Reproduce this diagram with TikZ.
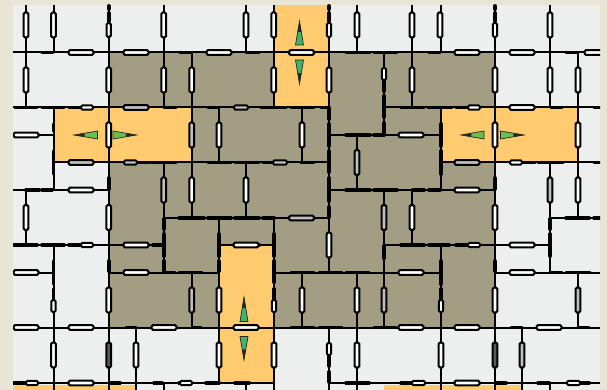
\documentclass[tikz,border=0pt]{standalone}
\usepackage{xcolor}
\definecolor{pagebeige}{HTML}{E9E5D6}
\definecolor{floorwhite}{HTML}{EDEEEE}
\definecolor{blockolive}{HTML}{A39D84}
\definecolor{cellorange}{HTML}{FFCB6E}
\definecolor{arrowgreen}{HTML}{3FB46C}
\definecolor{arrowlime}{HTML}{68BE4E}
\tikzset{
  wall/.style={black, line width=2pt},
  wallthick/.style={black, line width=3.8pt, line cap=round},
  slit/.style={draw=black, fill=white, line width=2pt, rounded corners=1.5pt},
  slitgray/.style={slit, fill=black!25},
  slitdark/.style={slit, fill=black!65},
  kite/.style={draw=black!85, line width=0.7pt, line join=miter, miter limit=20},
  kitetip/.style={fill=black!85}
}
\begin{document}
\begin{tikzpicture}[x=1pt,y=-1pt]
  \useasboundingbox (0,0) rectangle (607,390);
  \fill[pagebeige] (0,0) rectangle (607,390);
  \begin{scope}
    \clip (13,5) rectangle (600,390);
    \fill[floorwhite] (13,5) rectangle (600,390);
    \fill[blockolive] (108.7,52.5) rectangle (495,327.5);
    % orange cells
    \foreach \xa/\ya/\xb/\yb in {274/5/329/107.5,53.5/107.5/191.7/162.5,441/107.5/578/162.5,219/245/274/383,13/385/136/390,384/385/522/390}
      \fill[cellorange] (\xa,\ya) rectangle (\xb,\yb);
    % thin walls, horizontal then vertical
    \foreach \y/\xa/\xb in {52.5/13/600,107.5/13/329,107.5/384/600,135/13/53.5,135/329/441,162.5/53.5/329,162.5/441/600,190/13/108.7,190/329/495,218/164/329,218/550/600,245/13/164,245/219/274,245/384/550,272.5/13/53.5,272.5/108.7/219,272.5/274/441,272.5/495/600,327.5/13/600,383/13/274,383/329/600}
      \draw[wall] (\xa,\y) -- (\xb,\y);
    \foreach \x/\ya/\yb in {26/5/107.5,26/190/245,53.5/5/52.5,53.5/107.5/190,53.5/245/390,108.7/5/390,136/327.5/390,163.7/5/107.5,163.7/162.5/272.5,163.7/383/390,191.7/52.5/218,191.7/272.5/327.5,219/107.5/162.5,219/218/383,246/5/52.5,246/162.5/218,246/383/390,274/5/107.5,274/218/390,302/107.5/162.5,302/272.5/327.5,329/5/272.5,329/327.5/390,357/5/52.5,357/135/190,357/272.5/390,384/52.5/135,384/190/327.5,412/5/107.5,412/190/245,441/5/52.5,441/107.5/190,441/245/390,495/5/390,522/327.5/390,550/5/107.5,550/162.5/272.5,550/383/390,578/52.5/218,578/272.5/327.5}
      \draw[wall] (\x,\ya) -- (\x,\yb);
    % thick overlaps
    \foreach \y/\xa/\xb in {52.5/42/53,52.5/180/191,52.5/246/259,52.5/346/370,52.5/374/397,52.5/429/440,52.5/566/578,107.5/15/37,107.5/42/64,107.5/69/80,107.5/164/176,107.5/208/219,107.5/261/286,107.5/291/314,107.5/321/328,107.5/401/424,107.5/428/452,107.5/456/467,107.5/551/562,107.5/594/600,135/346/370,135/374/384,162.5/138/149,162.5/151/176,162.5/208/231,162.5/235/259,162.5/263/272,162.5/301/314,162.5/523/535,162.5/538/563,162.5/594/600,190/26/39,190/42/52,190/346/370,190/374/397,190/413/424,190/429/440,218/179/204,218/208/231,218/235/259,218/263/274,218/566/589,218/594/600,245/14/37,245/42/64,245/69/80,245/153/162,245/235/259,245/401/424,245/429/449,245/456/467,272.5/164/175,272.5/179/202,272.5/291/314,272.5/319/342,272.5/346/369,272.5/551/562,272.5/566/590,327.5/126/136,327.5/192/201,327.5/291/314,327.5/319/342,327.5/374/396,327.5/511/522,327.5/578/589,383/14/25,383/111/120,383/154/162,383/179/189,383/206/219,383/235/249,383/346/369,383/401/411,383/496/506,383/538/549,383/581/589}
      \draw[wallthick] (\xa,\y) -- (\xb,\y);
    \foreach \x/\ya/\yb in {108.7/6/9,108.7/13/21,329/6/9,329/13/21,495/6/9,495/13/21,384/81/91,384/96/117,384/123/134,329/108/119,329/124/146,329/151/172,329/178/201,329/207/217,53.5/124/131,53.5/151/174,108.7/178/189,441/124/146,441/151/174,495/178/189,163.7/219/229,163.7/234/256,163.7/261/271,219/234/256,219/261/271,274/234/256,274/261/282,274/289/299,384/246/258,108.7/261/271,495/261/271,441/261/284,441/289/299,550/219/229,550/234/256,53.5/261/284,53.5/289/299,329/356/366,329/372/382}
      \draw[wallthick] (\x,\ya) -- (\x,\yb);
    % slits along the walls
    \foreach \x/\y in {81/52.5,136/52.5,219/52.5,301.5/52.5,467/52.5,522/52.5,597/52.5,26/135,411/135,81/190,467/190,136/245,246/245,522/245,26/272.5,136/272.5,411/272.5,522/272.5,26/327.5,81/327.5,164/327.5,246/327.5,411/327.5,467/327.5,549/327.5,81/383,467/383,522/107.5}
      \draw[slit] (\x-12.5,\y-2.4) rectangle (\x+12.5,\y+2.4);
    \foreach \x/\y in {136/107.5,81/162.5,467/162.5,301.5/218}
      \draw[slitgray] (\x-12.5,\y-2.4) rectangle (\x+12.5,\y+2.4);
    \foreach \x/\y in {26/25,53.5/25,163.7/25,246/25,273.7/25,357/25,412/25,440/25,550/25,26/80,108.7/80,163.7/80,191.7/80,273.7/80,329/80,412/80,495/80,550/80,578/80,108.7/135,219/135,302/135,495/135,578/135,191.7/190,246/190,578/190,26/217.5,108.7/217.5,412/217.5,495/217.5,329/245,108.7/300,219/300,302/300,357/300,495/300,53.5/355,136/355,219/355,274/355,357/355,441/355}
      \draw[slit] (\x-2.4,\y-12.5) rectangle (\x+2.4,\y+12.5);
    \foreach \x/\y in {191.7/135,357/162.5,163.7/190,550/190,384/217.5,191.7/300,384/300,578/300,522/355}
      \draw[slitgray] (\x-2.4,\y-12.5) rectangle (\x+2.4,\y+12.5);
    \foreach \x/\y in {108.7/355,495/355}
      \draw[slitdark] (\x-2.4,\y-12.5) rectangle (\x+2.4,\y+12.5);
    % short slits
    \foreach \xa/\xb/\y in {81/93/107.5,468/480/107.5,510/522/162.5,81/93/245,468/480/245,26/38/383,180/192/383,412/425/383,567/580/383}
      \draw[slit] (\xa,\y-2.2) rectangle (\xb,\y+2.2);
    \foreach \xa/\xb/\y in {234/248/107.5,124/137/162.5,273/287/162.5}
      \draw[slitgray] (\xa,\y-2.2) rectangle (\xb,\y+2.2);
    \foreach \x/\ya/\yb in {108.7/23/37,329/23/37,495/23/37,384/68/80,53.5/300/312,274/300/312,441/300/312,329/343/355}
      \draw[slit] (\x-2.2,\ya) rectangle (\x+2.2,\yb);
  \end{scope}
  % double arrows
  \foreach \x/\ta/\ba/\bb/\tb in {299.5/21/45/60/84,244/297/321.5/336.5/360}{
    \draw[kite, fill=arrowgreen] (\x,\ta) -- (\x+4,\ba) -- (\x-4,\ba) -- cycle;
    \draw[kite, fill=arrowgreen] (\x,\tb) -- (\x+4,\bb) -- (\x-4,\bb) -- cycle;
    \fill[kitetip] (\x,\ta) -- (\x+1.8,\ta*0.55+\ba*0.45) -- (\x-1.8,\ta*0.55+\ba*0.45) -- cycle;
    \fill[kitetip] (\x,\tb) -- (\x+1.8,\tb*0.55+\bb*0.45) -- (\x-1.8,\tb*0.55+\bb*0.45) -- cycle;
  }
  \foreach \y/\ta/\ba/\bb/\tb in {135/74/97.5/113/136.5,135/461/484/500.5/524}{
    \draw[kite, fill=arrowlime] (\ta,\y) -- (\ba,\y-4) -- (\ba,\y+4) -- cycle;
    \draw[kite, fill=arrowlime] (\tb,\y) -- (\bb,\y-4) -- (\bb,\y+4) -- cycle;
    \fill[kitetip] (\ta,\y) -- (\ta*0.55+\ba*0.45,\y-1.8) -- (\ta*0.55+\ba*0.45,\y+1.8) -- cycle;
    \fill[kitetip] (\tb,\y) -- (\tb*0.55+\bb*0.45,\y-1.8) -- (\tb*0.55+\bb*0.45,\y+1.8) -- cycle;
  }
\end{tikzpicture}
\end{document}
